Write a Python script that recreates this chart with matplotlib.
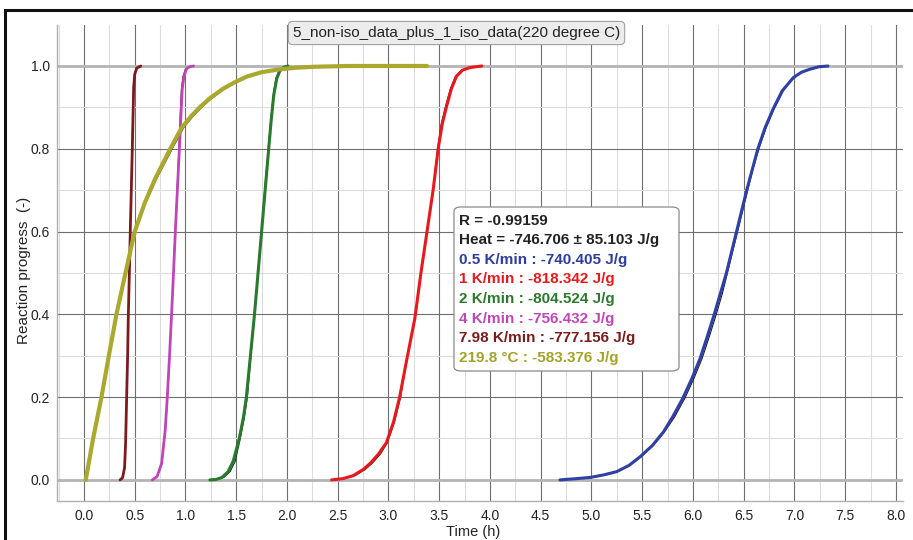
import matplotlib
matplotlib.use('Agg')
import matplotlib.pyplot as plt
from matplotlib.patches import FancyBboxPatch, Rectangle
from matplotlib.ticker import MultipleLocator

# Measured reaction progress curves (time in h, progress in -)
t_05 = [4.69, 4.85, 4.99, 5.12, 5.25, 5.37, 5.48, 5.60, 5.71, 5.80, 5.90, 5.99, 6.07, 6.14, 6.21, 6.27,
        6.33, 6.38, 6.43, 6.48, 6.53, 6.585, 6.64, 6.71, 6.79, 6.88, 6.99, 7.07, 7.15, 7.24, 7.33]
p_05 = [0.0, 0.003, 0.006, 0.012, 0.02, 0.035, 0.056, 0.083, 0.116, 0.152, 0.197, 0.245, 0.293, 0.345, 0.40, 0.45,
        0.50, 0.55, 0.60, 0.65, 0.70, 0.75, 0.80, 0.85, 0.896, 0.94, 0.972, 0.985, 0.992, 0.998, 1.0]
t_1 = [2.44, 2.55, 2.65, 2.75, 2.82, 2.90, 2.98, 3.05, 3.11, 3.18, 3.26, 3.32, 3.38, 3.44, 3.49, 3.53,
       3.57, 3.62, 3.67, 3.73, 3.80, 3.92]
p_1 = [0.0, 0.003, 0.01, 0.025, 0.04, 0.062, 0.09, 0.14, 0.20, 0.29, 0.39, 0.50, 0.60, 0.70, 0.80, 0.86,
       0.90, 0.945, 0.975, 0.99, 0.996, 1.0]
t_2 = [1.24, 1.30, 1.36, 1.42, 1.47, 1.53, 1.57, 1.60, 1.64, 1.68, 1.715, 1.75, 1.785, 1.82, 1.845, 1.87,
       1.90, 1.93, 1.97, 2.01]
p_2 = [0.0, 0.001, 0.006, 0.02, 0.045, 0.10, 0.15, 0.20, 0.30, 0.40, 0.50, 0.60, 0.70, 0.80, 0.87, 0.93,
       0.97, 0.988, 0.997, 1.0]
t_4 = [0.673, 0.72, 0.765, 0.80, 0.82, 0.843, 0.863, 0.882, 0.90, 0.92, 0.94, 0.955, 0.968, 0.985, 1.01,
       1.04, 1.08]
p_4 = [0.0, 0.008, 0.04, 0.12, 0.197, 0.30, 0.40, 0.50, 0.60, 0.70, 0.80, 0.88, 0.944, 0.975, 0.993,
       0.998, 1.0]
t_8 = [0.355, 0.38, 0.40, 0.41, 0.42, 0.43, 0.437, 0.447, 0.456, 0.466, 0.476, 0.484, 0.49, 0.50, 0.52, 0.56]
p_8 = [0.0, 0.005, 0.03, 0.09, 0.197, 0.30, 0.40, 0.50, 0.60, 0.70, 0.80, 0.89, 0.95, 0.98, 0.995, 1.0]
t_iso = [0.017, 0.09, 0.17, 0.245, 0.32, 0.40, 0.50, 0.60, 0.70, 0.85, 0.96, 1.05, 1.14, 1.24, 1.37, 1.48,
         1.60, 1.75, 1.93, 2.10, 2.26, 2.59, 3.38]
p_iso = [0.0, 0.10, 0.197, 0.30, 0.40, 0.49, 0.60, 0.67, 0.727, 0.80, 0.85, 0.877, 0.90, 0.922, 0.945, 0.96,
         0.974, 0.985, 0.992, 0.996, 0.998, 1.0, 1.0]

# Model fit curves (thin black lines), same progress levels as above
tf_05 = [4.69, 4.85, 4.99, 5.12, 5.25, 5.38, 5.49, 5.61, 5.72, 5.82, 5.92, 6.01, 6.09, 6.16, 6.23, 6.29,
         6.34, 6.39, 6.44, 6.49, 6.54, 6.59, 6.65, 6.72, 6.80, 6.89, 6.99, 7.07, 7.15, 7.24, 7.33]
tf_1 = [2.44, 2.56, 2.67, 2.77, 2.84, 2.92, 2.99, 3.06, 3.12, 3.18, 3.26, 3.32, 3.38, 3.44, 3.485, 3.52,
        3.56, 3.61, 3.66, 3.72, 3.80, 3.92]
tf_2 = [1.24, 1.31, 1.38, 1.44, 1.49, 1.54, 1.58, 1.61, 1.645, 1.68, 1.715, 1.75, 1.78, 1.815, 1.84, 1.865,
        1.89, 1.92, 1.96, 2.01]
tf_4 = [0.673, 0.722, 0.768, 0.802, 0.822, 0.844, 0.863, 0.881, 0.898, 0.917, 0.935, 0.948, 0.96, 0.976,
        1.0, 1.035, 1.08]
tf_8 = [0.355, 0.382, 0.402, 0.412, 0.421, 0.43, 0.437, 0.447, 0.456, 0.465, 0.474, 0.481, 0.487, 0.497,
        0.515, 0.56]
tf_iso = [0.017, 0.087, 0.167, 0.243, 0.318, 0.40, 0.505, 0.61, 0.715, 0.87, 0.98, 1.07, 1.16, 1.26, 1.39, 1.50,
          1.62, 1.77, 1.95, 2.12, 2.28, 2.59, 3.38]

series = [
    (t_05, p_05, tf_05, '#2f3fa5', 2.2),
    (t_1, p_1, tf_1, '#e8191e', 2.2),
    (t_2, p_2, tf_2, '#2a7a2e', 2.2),
    (t_4, p_4, tf_4, '#c046b8', 2.0),
    (t_8, p_8, tf_8, '#7a1c1c', 2.0),
    (t_iso, p_iso, tf_iso, '#aaa92e', 3.0),
]

info_lines = [
    ('R = -0.99159', '#222222'),
    ('Heat = -746.706 \u00b1 85.103 J/g', '#222222'),
    ('0.5 K/min : -740.405 J/g', '#2e3d9e'),
    ('1 K/min : -818.342 J/g', '#e8191e'),
    ('2 K/min : -804.524 J/g', '#2a7a2e'),
    ('4 K/min : -756.432 J/g', '#c046b8'),
    ('7.98 K/min : -777.156 J/g', '#7a1c1c'),
    ('219.8 \u00b0C : -583.376 J/g', '#a3a22a'),
]

plt.rcParams['font.family'] = ['Liberation Sans', 'DejaVu Sans']

fig = plt.figure(figsize=(9.13, 5.4), dpi=100)
ax = fig.add_axes([57 / 913, 1 - 501 / 540, 846 / 913, 476 / 540])

ax.set_xlim(-0.266, 8.07)
ax.set_ylim(-0.051, 1.099)

ax.xaxis.set_major_locator(MultipleLocator(0.5))
ax.xaxis.set_minor_locator(MultipleLocator(0.25))
ax.yaxis.set_major_locator(MultipleLocator(0.2))
ax.yaxis.set_minor_locator(MultipleLocator(0.1))
ax.grid(which='major', color='#6e6e6e', linewidth=0.8)
ax.grid(which='minor', color='#dcdcdc', linewidth=0.8)
ax.set_axisbelow(True)
ax.axhline(0.0, color='#b4b4b4', linewidth=2.0, zorder=1)
ax.axhline(1.0, color='#b4b4b4', linewidth=2.0, zorder=1)

for t, p, tf, c, lw in series:
    ax.plot(tf, p, color='#1a1a1a', linewidth=0.8, zorder=2)
    ax.plot(t, p, color=c, linewidth=lw, solid_capstyle='round', solid_joinstyle='round', zorder=3)

ax.set_xticks([i * 0.5 for i in range(17)])
ax.set_xticklabels(['%.1f' % (i * 0.5) for i in range(17)], fontsize=10)
ax.set_yticks([i * 0.2 for i in range(6)])
ax.set_yticklabels(['%.1f' % (i * 0.2) for i in range(6)], fontsize=10)
ax.tick_params(which='both', length=0, colors='#222222')
ax.tick_params(axis='x', pad=6)
ax.tick_params(axis='y', pad=5)

for side in ['top', 'right']:
    ax.spines[side].set_visible(False)
for side in ['left', 'bottom']:
    ax.spines[side].set_color('#b0b0b0')
    ax.spines[side].set_linewidth(1.0)

ax.set_xlabel('Time (h)', fontsize=10.5, color='#222222')
ax.xaxis.set_label_coords(0.492, -0.050)
ax.set_ylabel('Reaction progress  (-)', fontsize=11, color='#222222')
ax.yaxis.set_label_coords(-0.031, 0.485)

# title box
fig.text(0.5, 1 - 33 / 540, '5_non-iso_data_plus_1_iso_data(220 degree C)',
         ha='center', va='center', fontsize=11, color='#222222',
         bbox=dict(boxstyle='round,pad=0.3', facecolor='#ececec', edgecolor='#a0a0a0', linewidth=0.8))

# info box
box = FancyBboxPatch((454 / 913, 1 - 371 / 540), 225 / 913, 164 / 540,
                     boxstyle='round,pad=0,rounding_size=0.008', transform=fig.transFigure,
                     facecolor='white', edgecolor='#8a8a8a', linewidth=0.9, zorder=5)
fig.add_artist(box)
for i, (txt, c) in enumerate(info_lines):
    fig.text(459 / 913, 1 - (220.7 + 19.6 * i) / 540, txt, ha='left', va='center',
             fontsize=11, fontweight='bold', color=c, zorder=6)

# outer frame
fig.add_artist(Rectangle((5 / 913, -0.2), 1.2, 1.2 - 10 / 540, transform=fig.transFigure,
                         fill=False, edgecolor='#111111', linewidth=2.2))

fig.savefig('out.png', dpi=100)
